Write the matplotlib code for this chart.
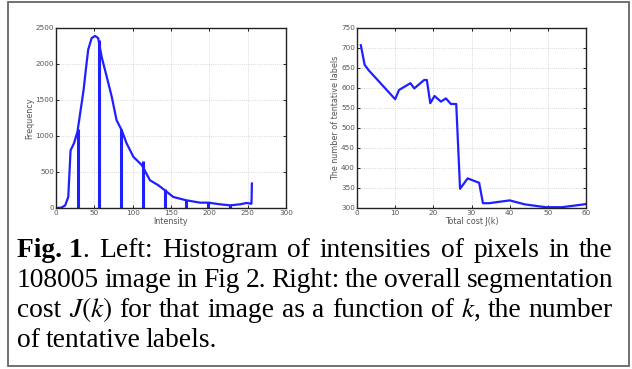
import matplotlib.pyplot as plt
import numpy as np
from matplotlib.patches import Rectangle

# left panel: histogram of intensities
intensity = [0, 7, 12, 16, 19, 23.5, 28, 32, 36, 39, 42, 46.5, 51, 55, 59.5, 66, 72.6, 79, 85.7,
             92, 101, 112, 122.6, 133.5, 142, 153, 170, 188, 199, 214, 227, 240, 248.7, 254, 255, 255.5]
frequency = [0, 5, 37, 153, 800, 900, 1060, 1350, 1640, 1930, 2200, 2360, 2390, 2360, 2100, 1830, 1550,
             1220, 1080, 900, 710, 595, 385, 316, 246, 153, 107, 74, 74, 51, 37, 51, 70, 60, 60, 340]
# quantisation levels drawn as vertical bars
levels = [28.3, 56.7, 85, 113.3, 141.7, 170, 198.3, 226.7]
level_freq = [1100, 2330, 1100, 650, 270, 110, 80, 45]

# right panel: cost vs k
k = [1, 2, 3, 10, 11, 14, 15, 17.6, 18.3, 19.2, 20.3, 22, 23.3, 24.6, 26, 27, 29, 32, 33,
     34.6, 40, 44, 49.4, 53.7, 59.4, 60]
cost = [707, 658, 645, 572, 595, 612, 599, 620, 620, 562, 580, 566, 574, 560, 560, 348, 374, 363, 312,
        312, 319, 309, 302, 302, 309, 310]

blue = "#1f1fff"
tick_col = "#555555"

fig = plt.figure(figsize=(6.32, 3.69), dpi=100)

ax1 = fig.add_axes([56 / 632, 1 - 208 / 369, 230 / 632, 180 / 369])
ax2 = fig.add_axes([357 / 632, 1 - 208 / 369, 229 / 632, 180 / 369])


def matlab_style(ax):
    ax.grid(True, linestyle=":", color="#cccccc", linewidth=0.6)
    ax.tick_params(direction="in", length=2.5, width=0.6, labelsize=5.2,
                   labelcolor=tick_col, pad=1.5, top=True, right=True)
    for s in ax.spines.values():
        s.set_linewidth(1.0)
        s.set_color("#222222")


ax1.plot(intensity, frequency, color=blue, lw=1.6)
ax1.vlines(levels, 0, level_freq, color=blue, lw=2.2)
ax1.set_xlim(0, 300)
ax1.set_ylim(0, 2500)
ax1.set_xticks(np.arange(0, 301, 50))
ax1.set_yticks(np.arange(0, 2501, 500))
ax1.set_xlabel("Intensity", fontsize=5.8, color=tick_col, labelpad=1)
ax1.set_ylabel("Frequency", fontsize=5.8, color=tick_col, labelpad=1)
matlab_style(ax1)

ax2.plot(k, cost, color=blue, lw=1.6)
ax2.set_xlim(0, 60)
ax2.set_ylim(300, 750)
ax2.set_xticks(np.arange(0, 61, 10))
ax2.set_yticks(np.arange(300, 751, 50))
ax2.set_xlabel("Total cost J(k)", fontsize=5.8, color=tick_col, labelpad=1)
ax2.set_ylabel("The number of tentative labels", fontsize=5.8, color=tick_col, labelpad=1)
matlab_style(ax2)

# outer frame
fig.patches.append(Rectangle((8 / 632, 3 / 369), 621 / 632, 364 / 369, transform=fig.transFigure,
                             fill=False, edgecolor="#666666", linewidth=1.3))

# caption, justified by hand
plt.rcParams["mathtext.fontset"] = "stix"
serif = "Liberation Serif"
fs = 19.8
x_left, x_right = 17 / 632, 613 / 632
lines = [
    [("Fig. 1", "bold"), (".", "normal"), ("Left:", "normal"), ("Histogram", "normal"), ("of", "normal"),
     ("intensities", "normal"), ("of", "normal"), ("pixels", "normal"), ("in", "normal"), ("the", "normal")],
    [(w, "normal") for w in "108005 image in Fig 2. Right: the overall segmentation".split()],
    [(w, "normal") for w in ["cost", "$J(k)$", "for", "that", "image", "as", "a", "function", "of", "$k$,",
                             "the", "number"]],
    [(w, "normal") for w in "of tentative labels.".split()],
]
baselines = [257, 287, 317, 347]

fig.canvas.draw()
renderer = fig.canvas.get_renderer()
for li, (words, yb) in enumerate(zip(lines, baselines)):
    y = 1 - yb / 369
    texts = []
    for w, wt in words:
        t = fig.text(0, y, w, fontsize=fs, family=serif, weight=wt, va="baseline", ha="left")
        texts.append(t)
    widths = [t.get_window_extent(renderer).width / fig.bbox.width for t in texts]
    # "Fig. 1" and "." stick together
    gaps = []
    for i in range(1, len(words)):
        gaps.append(0 if (li == 0 and i == 1) else 1)
    n_gaps = sum(gaps)
    if li < len(lines) - 1:
        space = (x_right - x_left - sum(widths)) / n_gaps
    else:
        space = 5.5 / 632
    x = x_left
    for i, t in enumerate(texts):
        if i > 0:
            x += gaps[i - 1] * space
        t.set_x(x)
        x += widths[i]

fig.savefig("out.png", dpi=100)
